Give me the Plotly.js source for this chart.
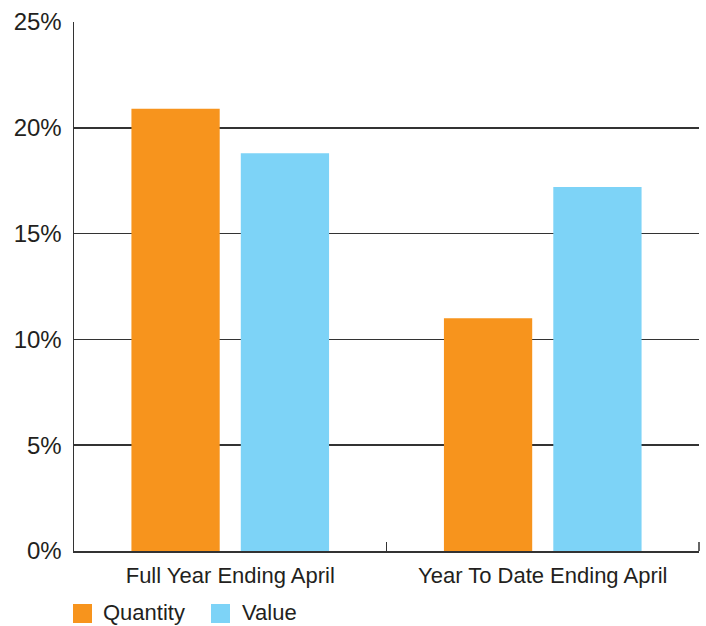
<!DOCTYPE html>
<html>
<head>
<meta charset="utf-8">
<script src="https://cdn.plot.ly/plotly-3.0.1.min.js"></script>
<style>html,body{margin:0;padding:0;background:#fff;}#chart{width:706px;height:626px;}</style>
</head>
<body>
<div id="chart"></div>
<script>
var categories = ["Full Year Ending April", "Year To Date Ending April"];
var seriesNames = ["Quantity", "Value"];
var quantityValues = [20.9, 11.0];
var valueValues = [18.8, 17.2];
var yTickValues = [0, 5, 10, 15, 20, 25];
var yTickLabels = ["0%", "5%", "10%", "15%", "20%", "25%"];
var colors = ["#F7941D", "#7DD3F7"];

var FONT = "Liberation Sans, Arial, sans-serif";
var traces = [
  {type: "bar", name: seriesNames[0], x: categories, y: quantityValues, marker: {color: colors[0]}, showlegend: false, hoverinfo: "none"},
  {type: "bar", name: seriesNames[1], x: categories, y: valueValues, marker: {color: colors[1]}, showlegend: false, hoverinfo: "none"}
];

// manual legend (squares + labels) in paper coordinates
var L = 74, R = 699, T = 22, B = 551;
function px(x){ return (x - L) / (R - L); }
function py(y){ return (B - y) / (B - T); }
var legendSquares = [[73, 92], [211, 230]];
var legendTextX = [101, 240];
var shapes = [], annotations = [];
for (var i = 0; i < seriesNames.length; i++) {
  shapes.push({type: "rect", xref: "paper", yref: "paper",
    x0: px(legendSquares[i][0]), x1: px(legendSquares[i][1]), y0: py(623), y1: py(604),
    fillcolor: colors[i], line: {width: 0}});
  annotations.push({xref: "paper", yref: "paper", x: px(legendTextX[i]), y: py(612),
    xanchor: "left", yanchor: "middle", showarrow: false, text: seriesNames[i],
    font: {family: FONT, size: 22, color: "#231f20"}});
}
// end tick at right edge of the category axis
shapes.push({type: "line", xref: "paper", yref: "paper", x0: 1, x1: 1, y0: 0, y1: 9 / (B - T),
  line: {color: "#333", width: 1.5}});

var layout = {
  width: 706, height: 626,
  margin: {l: L, r: 706 - R, t: T, b: 626 - B, pad: 0},
  paper_bgcolor: "#fff", plot_bgcolor: "#fff",
  barmode: "group", bargap: 0.30, bargroupgap: 0.193,
  showlegend: false,
  font: {family: FONT, color: "#231f20"},
  xaxis: {
    type: "category", tickson: "boundaries", ticks: "inside", ticklen: 9, tickwidth: 1.5, tickcolor: "#333",
    showline: true, linecolor: "#333", linewidth: 1.5, showgrid: false, zeroline: false,
    ticklabelstandoff: 4,
    tickfont: {family: FONT, size: 22, color: "#231f20"}, fixedrange: true
  },
  yaxis: {
    range: [0, 25], tickvals: yTickValues, ticktext: yTickLabels,
    ticks: "outside", ticklen: 6, tickcolor: "rgba(0,0,0,0)",
    showline: true, linecolor: "#333", linewidth: 1.5,
    showgrid: true, gridcolor: "#333", gridwidth: 1.5, zeroline: false,
    tickfont: {family: FONT, size: 24, color: "#231f20"}, fixedrange: true
  },
  shapes: shapes,
  annotations: annotations
};
Plotly.newPlot("chart", traces, layout, {displayModeBar: false, staticPlot: true});
</script>
</body>
</html>
